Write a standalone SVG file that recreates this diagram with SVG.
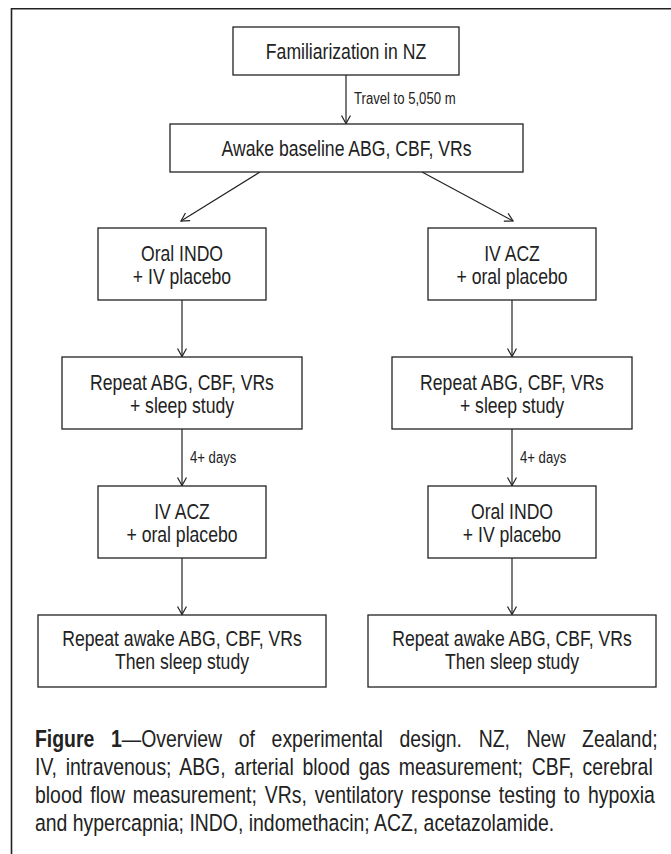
<svg xmlns="http://www.w3.org/2000/svg" width="671" height="854" viewBox="0 0 671 854">
<defs>
<marker id="arr" markerWidth="12" markerHeight="12" refX="9" refY="5" orient="auto" markerUnits="userSpaceOnUse">
<path d="M1,0.5 L9,5 L1,9.5" fill="none" stroke="#222" stroke-width="1.2"/>
</marker>
<style>
.box{fill:#fff;stroke:#222;stroke-width:1.3}
.t{font-family:"Liberation Sans",Arial,sans-serif;font-size:22px;fill:#222;text-anchor:middle}
.lbl{font-family:"Liberation Sans",Arial,sans-serif;font-size:16px;fill:#222}
.cap{font-family:"Liberation Sans",Arial,sans-serif;font-size:23.7px;fill:#222}
.c{stroke:#222;stroke-width:1.2;fill:none;marker-end:url(#arr)}
</style>
</defs>
<rect width="671" height="854" fill="#fff"/>
<path d="M11.5,854 V8.7 H671" fill="none" stroke="#222" stroke-width="1.6"/>
<g id="connectors">
<line class="c" x1="346" y1="75" x2="346" y2="123.5"/>
<line class="c" x1="260" y1="172" x2="181" y2="221"/>
<line class="c" x1="422" y1="172" x2="513" y2="221"/>
<line class="c" x1="182" y1="300" x2="182" y2="356.5"/>
<line class="c" x1="512" y1="300" x2="512" y2="356.5"/>
<line class="c" x1="182" y1="429" x2="182" y2="485.5"/>
<line class="c" x1="512" y1="429" x2="512" y2="485.5"/>
<line class="c" x1="182" y1="558" x2="182" y2="614.5"/>
<line class="c" x1="512" y1="558" x2="512" y2="614.5"/>
<text class="lbl" transform="translate(354 104) scale(.82 1)">Travel to 5,050 m</text>
<text class="lbl" transform="translate(190 463) scale(.82 1)">4+ days</text>
<text class="lbl" transform="translate(520 463) scale(.82 1)">4+ days</text>
</g>
<g id="n1"><rect class="box" x="233" y="27" width="226" height="48"/><text class="t" transform="translate(346 59) scale(.8 1)">Familiarization in NZ</text></g>
<g id="n2"><rect class="box" x="170" y="124" width="353" height="48"/><text class="t" transform="translate(346.5 156) scale(.8 1)">Awake baseline ABG, CBF, VRs</text></g>
<g id="n3"><rect class="box" x="98" y="228" width="168" height="72"/><text class="t" transform="translate(182 260.5) scale(.8 1)">Oral INDO</text><text class="t" transform="translate(182 284) scale(.8 1)">+ IV placebo</text></g>
<g id="n4"><rect class="box" x="428" y="228" width="168" height="72"/><text class="t" transform="translate(512 260.5) scale(.8 1)">IV ACZ</text><text class="t" transform="translate(512 284) scale(.8 1)">+ oral placebo</text></g>
<g id="n5"><rect class="box" x="62" y="357" width="240" height="72"/><text class="t" transform="translate(182 389.5) scale(.8 1)">Repeat ABG, CBF, VRs</text><text class="t" transform="translate(182 413) scale(.8 1)">+ sleep study</text></g>
<g id="n6"><rect class="box" x="392" y="357" width="240" height="72"/><text class="t" transform="translate(512 389.5) scale(.8 1)">Repeat ABG, CBF, VRs</text><text class="t" transform="translate(512 413) scale(.8 1)">+ sleep study</text></g>
<g id="n7"><rect class="box" x="98" y="486" width="168" height="72"/><text class="t" transform="translate(182 518.5) scale(.8 1)">IV ACZ</text><text class="t" transform="translate(182 542) scale(.8 1)">+ oral placebo</text></g>
<g id="n8"><rect class="box" x="428" y="486" width="168" height="72"/><text class="t" transform="translate(512 518.5) scale(.8 1)">Oral INDO</text><text class="t" transform="translate(512 542) scale(.8 1)">+ IV placebo</text></g>
<g id="n9"><rect class="box" x="38" y="615" width="288" height="72"/><text class="t" transform="translate(182 645.5) scale(.8 1)">Repeat awake ABG, CBF, VRs</text><text class="t" transform="translate(182 669) scale(.8 1)">Then sleep study</text></g>
<g id="n10"><rect class="box" x="368" y="615" width="288" height="72"/><text class="t" transform="translate(512 645.5) scale(.8 1)">Repeat awake ABG, CBF, VRs</text><text class="t" transform="translate(512 669) scale(.8 1)">Then sleep study</text></g>
<g id="caption">
<text class="cap" transform="translate(35 747) scale(.82 1)" word-spacing="13.7"><tspan font-weight="bold">Figure 1</tspan>—Overview of experimental design. NZ, New Zealand;</text>
<text class="cap" transform="translate(35 775) scale(.82 1)" word-spacing="4.1">IV, intravenous; ABG, arterial blood gas measurement; CBF, cerebral</text>
<text class="cap" transform="translate(35 803) scale(.82 1)" word-spacing="3">blood flow measurement; VRs, ventilatory response testing to hypoxia</text>
<text class="cap" transform="translate(35 831) scale(.82 1)">and hypercapnia; INDO, indomethacin; ACZ, acetazolamide.</text>
</g>
</svg>
